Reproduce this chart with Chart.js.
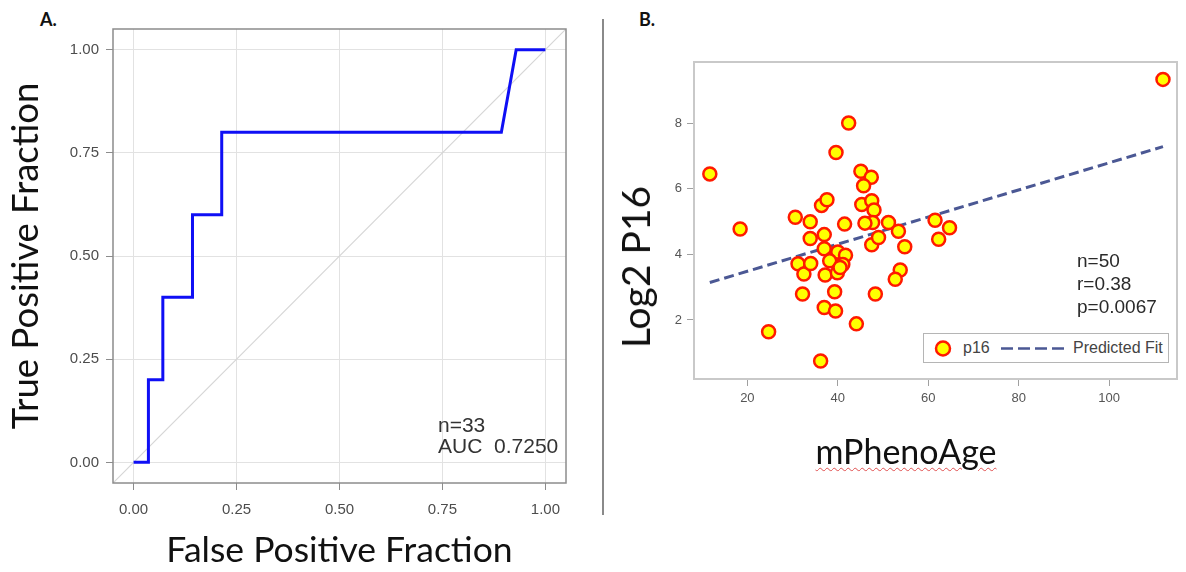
<!DOCTYPE html>
<html>
<head>
<meta charset="utf-8">
<script src="https://cdn.jsdelivr.net/npm/chart.js@4.4.1/dist/chart.umd.min.js"></script>
<style>
    body { margin: 0; width: 1186px; height: 572px; background: #fff; position: relative; overflow: hidden; }
    .abs { position: absolute; }
    .panel-tag { font: bold 18px Lato, sans-serif; color: #111; }
    .note { font-family: "Liberation Sans", Arial, sans-serif; color: #333; white-space: nowrap; }
    .big-title { font-family: Lato, sans-serif; color: #111; white-space: nowrap; }
</style>
</head>
<body>

<div class="abs panel-tag" style="left:40px; top:8px;">A.</div>
<div class="abs panel-tag" style="left:639px; top:8px;">B.</div>
<div class="abs" style="left:602px; top:19px; width:1.5px; height:496px; background:#8a8a8a;"></div>

<canvas id="rocChart" class="abs" width="600" height="572" style="left:0; top:0;"></canvas>
<canvas id="ageChart" class="abs" width="582" height="572" style="left:604px; top:0;"></canvas>

<!-- labels laid over the charts -->
<div class="abs note" style="left:438px; top:414px; font-size:21px; line-height:21px;">n=33<br>AUC&nbsp; 0.7250</div>
<div class="abs note" style="left:1077px; top:249px; font-size:19px; line-height:23px; color:#2a2a2a;">n=50<br>r=0.38<br>p=0.0067</div>

<div class="abs" style="left:923px; top:333px; width:244px; height:28px; border:1px solid #b5b5b5; background:#fff;">
    <svg class="abs" style="left:0; top:0;" width="244" height="28">
        <circle cx="19" cy="14.5" r="7" fill="#ffff00" stroke="#ff1a00" stroke-width="2.5"></circle>
        <line x1="77" y1="14.5" x2="141" y2="14.5" stroke="#4b5894" stroke-width="2.5" stroke-dasharray="12,5"></line>
    </svg>
    <div class="abs note" style="left:39px; top:5px; font-size:16px; color:#444;">p16</div>
    <div class="abs note" style="left:149px; top:5px; font-size:16px; color:#444;">Predicted Fit</div>
</div>

<div class="abs big-title" style="left:635px; top:267px; font-size:39px; transform:translate(-50%,-50%) rotate(-90deg);">Log2 P16</div>
<div class="abs big-title" style="left:906px; top:450px; font-size:34px; transform:translate(-50%,-50%); text-decoration:underline wavy #e05050; text-decoration-thickness:1px; text-underline-offset:3px;">mPhenoAge</div>

<script>
// panel A: ROC curve (5 positives, 28 negatives)
const fprValues = [0, 0.036, 0.036, 0.071, 0.071, 0.143, 0.143, 0.214, 0.214, 0.893, 0.929, 1];
const tprValues = [0, 0, 0.2, 0.2, 0.4, 0.4, 0.6, 0.6, 0.8, 0.8, 1, 1];
const chanceLine = [-0.05, 1.05];
const rocTicks = [0, 0.25, 0.5, 0.75, 1];

// panel B: mPhenoAge vs log2 p16
const phenoAge = [11.7, 18.4, 24.7, 30.6, 31.2, 32.5, 32.2, 33.9, 33.9, 34.0,
    36.2, 36.4, 37.6, 37.0, 37.0, 37.2, 37.0, 39.6, 38.8, 40.0,
    39.9, 39.3, 39.5, 41.7, 41.1, 41.5, 42.4, 44.1, 45.1, 47.4,
    45.7, 45.3, 47.5, 48.0, 47.7, 47.5, 48.3, 49.0, 51.2, 53.4,
    54.8, 53.8, 52.7, 61.5, 64.7, 62.3, 111.9, 38.2, 40.5, 46.0];
const log2P16 = [6.45, 4.77, 1.64, 5.13, 3.71, 3.40, 2.79, 4.99, 4.48, 3.72,
    0.75, 5.49, 5.66, 4.60, 4.17, 3.37, 2.38, 7.10, 3.87, 4.07,
    3.44, 2.86, 2.27, 3.97, 3.69, 4.92, 8.00, 1.88, 6.53, 6.35,
    6.09, 5.52, 5.63, 5.35, 4.97, 4.29, 2.79, 4.51, 4.97, 4.70,
    4.23, 3.52, 3.24, 5.04, 4.81, 4.46, 9.33, 3.80, 3.60, 4.95];
const fitAge = [11.7, 111.9];
const fitP16 = [3.14, 7.28];
const ageTicks = [20, 40, 60, 80, 100];
const p16Ticks = [2, 4, 6, 8];

const tickFont = { family: 'Liberation Sans, Arial, sans-serif' };

// draws the box round the plot area
const framePlugin = {
    id: 'frame',
    afterDraw(chart, args, opts) {
        const { ctx, chartArea } = chart;
        ctx.save();
        ctx.strokeStyle = opts.color;
        ctx.lineWidth = opts.width;
        ctx.strokeRect(chartArea.left, chartArea.top, chartArea.width, chartArea.height);
        ctx.restore();
    }
};

function zip(xs, ys) {
    return xs.map((x, i) => ({ x: x, y: ys[i] }));
}

window.onload = function () {
    drawRoc();
    drawScatter();
};

function drawRoc() {
    const ctx = document.getElementById('rocChart').getContext('2d');

    new Chart(ctx, {
        type: 'line',
        data: {
            datasets: [{
                data: zip(chanceLine, chanceLine),
                borderColor: '#d6d6d6',
                borderWidth: 1.2,
                pointRadius: 0,
                order: 2
            }, {
                data: zip(fprValues, tprValues),
                borderColor: '#0f0ff5',
                borderWidth: 3,
                pointRadius: 0,
                tension: 0,
                order: 1
            }]
        },
        options: {
            responsive: false,
            animation: false,
            events: [],
            layout: { padding: { left: 0, top: 29, right: 34, bottom: 0 } },
            plugins: {
                legend: { display: false },
                tooltip: { enabled: false },
                frame: { color: '#8c8c8c', width: 1.5 }
            },
            scales: {
                x: {
                    type: 'linear',
                    min: -0.05,
                    max: 1.05,
                    afterBuildTicks: s => { s.ticks = rocTicks.map(v => ({ value: v })); },
                    afterFit: s => { s.height = 89; },
                    grid: { color: '#e2e2e2', tickColor: '#8c8c8c', tickLength: 7 },
                    border: { display: false },
                    ticks: {
                        callback: v => v.toFixed(2),
                        color: '#4d4d4d',
                        font: { ...tickFont, size: 15 },
                        padding: 11,
                        maxRotation: 0
                    },
                    title: {
                        display: true,
                        text: 'False Positive Fraction',
                        color: '#111',
                        font: { family: 'Lato, sans-serif', size: 35.5 },
                        padding: { top: 0, bottom: 0 }
                    }
                },
                y: {
                    type: 'linear',
                    min: -0.05,
                    max: 1.05,
                    afterBuildTicks: s => { s.ticks = rocTicks.map(v => ({ value: v })); },
                    afterFit: s => { s.width = 113; },
                    grid: { color: '#e2e2e2', tickColor: '#8c8c8c', tickLength: 7 },
                    border: { display: false },
                    ticks: {
                        callback: v => v.toFixed(2),
                        color: '#4d4d4d',
                        font: { ...tickFont, size: 15 },
                        padding: 7
                    },
                    title: {
                        display: true,
                        text: 'True Positive Fraction',
                        color: '#111',
                        font: { family: 'Lato, sans-serif', size: 36.5 },
                        padding: { top: 4, bottom: 0 }
                    }
                }
            }
        },
        plugins: [framePlugin]
    });
}

function drawScatter() {
    const ctx = document.getElementById('ageChart').getContext('2d');

    new Chart(ctx, {
        type: 'scatter',
        data: {
            datasets: [{
                label: 'p16',
                data: zip(phenoAge, log2P16),
                backgroundColor: '#ffff00',
                borderColor: '#ff1a00',
                borderWidth: 2.5,
                pointRadius: 6.5,
                order: 1
            }, {
                type: 'line',
                label: 'Predicted Fit',
                data: zip(fitAge, fitP16),
                borderColor: '#4b5894',
                borderWidth: 3,
                borderDash: [10, 5],
                pointRadius: 0,
                order: 2
            }]
        },
        options: {
            responsive: false,
            animation: false,
            events: [],
            layout: { padding: { left: 0, top: 62, right: 5, bottom: 0 } },
            plugins: {
                legend: { display: false },
                tooltip: { enabled: false },
                frame: { color: '#c9c9c9', width: 2 }
            },
            scales: {
                x: {
                    type: 'linear',
                    min: 8.2,
                    max: 115,
                    afterBuildTicks: s => { s.ticks = ageTicks.map(v => ({ value: v })); },
                    afterFit: s => { s.height = 193; },
                    grid: { drawOnChartArea: false, tickColor: '#a0a0a0', tickLength: 7 },
                    border: { display: false },
                    ticks: { color: '#555', font: { ...tickFont, size: 13 }, padding: 5, maxRotation: 0 }
                },
                y: {
                    type: 'linear',
                    min: 0.2,
                    max: 9.86,
                    afterBuildTicks: s => { s.ticks = p16Ticks.map(v => ({ value: v })); },
                    afterFit: s => { s.width = 90; },
                    grid: { drawOnChartArea: false, tickColor: '#a0a0a0', tickLength: 7 },
                    border: { display: false },
                    ticks: { color: '#555', font: { ...tickFont, size: 13 }, padding: 5 }
                }
            }
        },
        plugins: [framePlugin]
    });
}
</script>
</body>
</html>
